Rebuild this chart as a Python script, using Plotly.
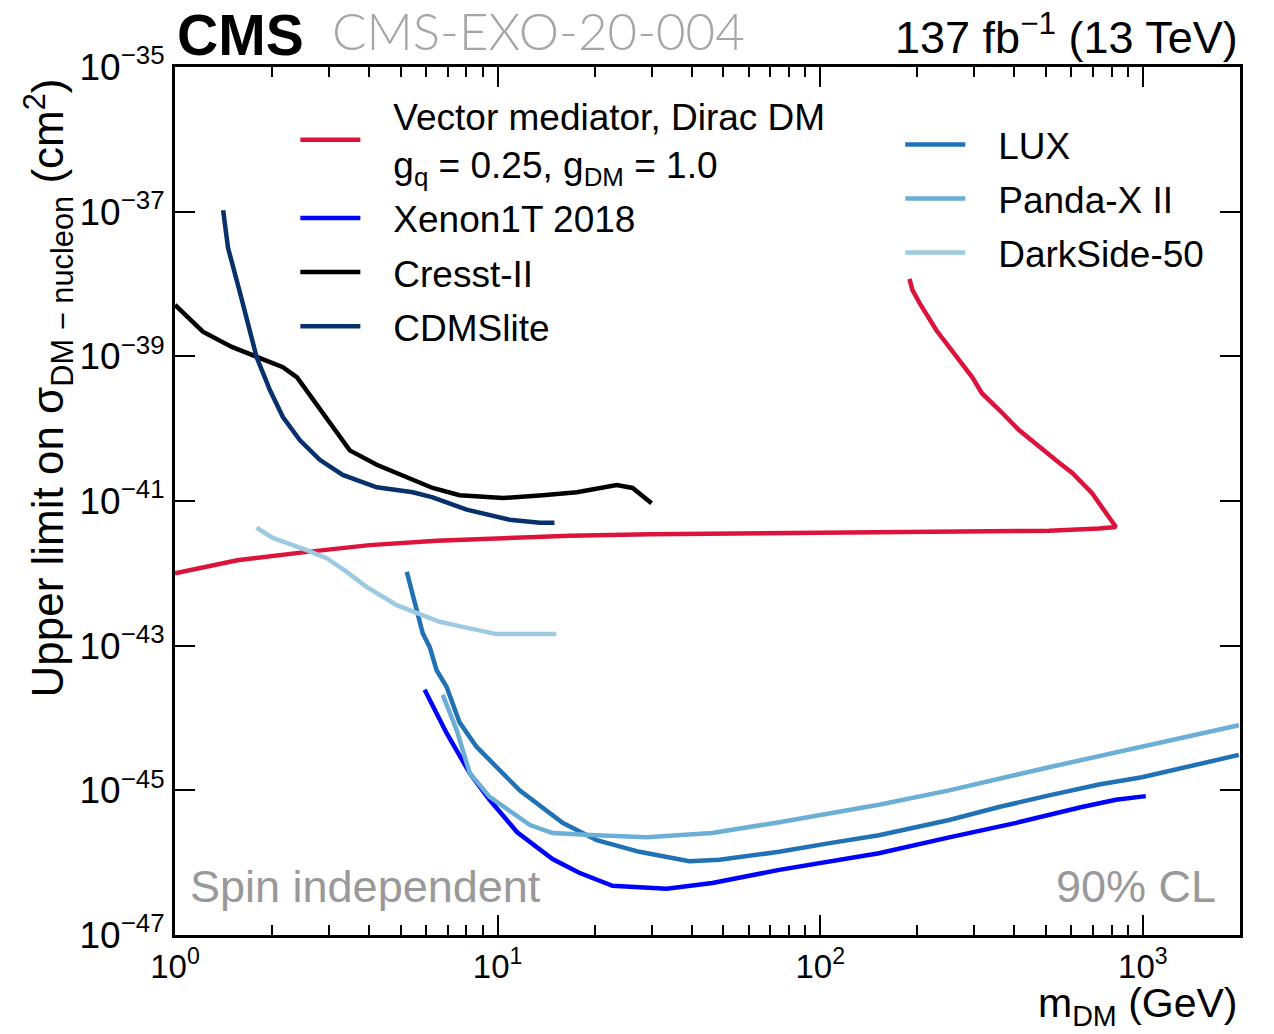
import plotly.graph_objects as go

# ---------------- data ----------------
vec_mass = [1.0, 1.56, 2.49, 4.01, 6.47, 10.4, 16.7, 29.6, 76.3, 198, 512, 731, 825,
            695, 603, 550, 501, 413, 366, 317, 296, 264, 229, 203, 193, 189]
vec_logxs = [-42.00, -41.82, -41.71, -41.61, -41.55, -41.51, -41.48, -41.46, -41.44, -41.43, -41.41, -41.38, -41.36,
             -40.89, -40.61, -40.47, -40.32, -40.02, -39.78, -39.51, -39.29, -39.01, -38.64, -38.26, -38.08, -37.93]

xenon_mass = [5.94, 6.95, 8.19, 9.44, 11.5, 14.8, 17.9, 22.7, 33.4, 46.3, 74.6, 152, 251, 405, 647, 825, 1021]
xenon_logxs = [-43.61, -44.21, -44.76, -45.13, -45.58, -45.95, -46.14, -46.32, -46.36, -46.28, -46.10,
               -45.87, -45.65, -45.45, -45.23, -45.13, -45.08]

cresst_mass = [1.0, 1.22, 1.50, 1.79, 2.16, 2.39, 2.87, 3.48, 4.22, 5.34, 6.29, 7.62, 10.4, 13.8, 17.6, 23.4, 26.2, 30.0]
cresst_logxs = [-38.29, -38.66, -38.87, -39.01, -39.15, -39.29, -39.78, -40.30, -40.50, -40.68, -40.82, -40.92,
                -40.96, -40.92, -40.88, -40.78, -40.82, -41.03]

cdms_mass = [1.41, 1.46, 1.59, 1.71, 1.79, 1.97, 2.16, 2.44, 2.81, 3.31, 4.22, 5.46, 6.29, 8.02, 10.9, 13.5, 15.0]
cdms_logxs = [-36.98, -37.50, -38.12, -38.68, -39.01, -39.47, -39.84, -40.16, -40.43, -40.64, -40.81, -40.88,
              -40.95, -41.12, -41.26, -41.30, -41.30]

lux_mass = [5.23, 5.61, 5.86, 6.16, 6.47, 6.95, 7.62, 8.61, 9.65, 11.7, 15.9, 20.3, 27.5, 39.3, 48.7, 74.6,
            107, 152, 251, 358, 512, 731, 993, 1230, 1983]
lux_logxs = [-41.98, -42.51, -42.83, -43.02, -43.34, -43.57, -44.06, -44.40, -44.62, -45.00, -45.45, -45.69,
             -45.85, -45.98, -45.96, -45.85, -45.73, -45.62, -45.41, -45.23, -45.07, -44.92, -44.82, -44.72, -44.51]

panda_mass = [6.76, 7.47, 8.19, 9.44, 12.6, 14.8, 20.3, 28.9, 46.3, 74.6, 152, 251, 512, 1044, 1983]
panda_logxs = [-43.68, -44.17, -44.76, -45.09, -45.48, -45.59, -45.62, -45.65, -45.59, -45.44, -45.20,
               -45.00, -44.68, -44.37, -44.10]

ds_mass = [1.79, 2.01, 2.56, 2.95, 3.41, 3.93, 4.87, 5.61, 6.61, 7.79, 9.93, 15.2]
ds_logxs = [-41.37, -41.51, -41.68, -41.79, -41.98, -42.19, -42.44, -42.55, -42.67, -42.74, -42.84, -42.84]

x_tick_exps = [0, 1, 2, 3]
y_tick_exps = [-35, -37, -39, -41, -43, -45, -47]

FONT = "Liberation Sans, Arial, Helvetica, sans-serif"
NB = "\u00a0\u00a0\u2009"


def pw(vals):
    return [10 ** v for v in vals]


fig = go.Figure()

series = [
    (NB + "Vector mediator, Dirac DM<br>" + NB + "g<sub>q</sub> = 0.25, g<sub>DM</sub> = 1.0",
     vec_mass, vec_logxs, "#dc143c", "legend"),
    (NB + "Xenon1T 2018", xenon_mass, xenon_logxs, "#0000ff", "legend"),
    (NB + "Cresst-II", cresst_mass, cresst_logxs, "#000000", "legend"),
    (NB + "CDMSlite", cdms_mass, cdms_logxs, "#08306b", "legend"),
    (NB + "LUX", lux_mass, lux_logxs, "#2171b5", "legend2"),
    (NB + "Panda-X II", panda_mass, panda_logxs, "#6baed6", "legend2"),
    (NB + "DarkSide-50", ds_mass, ds_logxs, "#9ecae1", "legend2"),
]

for i, (name, m, lx, col, leg) in enumerate(series):
    fig.add_trace(go.Scatter(x=m, y=pw(lx), mode="lines", name=name, legendgroup="g%d" % i,
                             line=dict(color=col, width=4.5), legend=leg))

axis_common = dict(
    type="log", showline=True, linecolor="black", linewidth=3, mirror="allticks",
    ticks="inside", ticklen=20, tickwidth=1.5, tickcolor="black", showgrid=False,
    zeroline=False,
)

minor_x = [k * 10 ** e for e in range(0, 4) for k in range(2, 10) if k * 10 ** e <= 2000]

fig.update_xaxes(**axis_common, range=[0, 3.30103], tickmode="array",
                 tickvals=[10 ** e for e in x_tick_exps],
                 ticktext=["10<sup>%d</sup>" % e for e in x_tick_exps],
                 tickfont=dict(family=FONT, size=33, color="black"),
                 minor=dict(ticks="inside", ticklen=10, tickwidth=1.5, tickcolor="black",
                            showgrid=False, tickvals=minor_x))
fig.update_yaxes(**axis_common, range=[-47, -35], tickmode="array",
                 tickvals=[10.0 ** e for e in y_tick_exps],
                 ticktext=["10<sup>−%d</sup>" % (-e) for e in y_tick_exps],
                 tickfont=dict(family=FONT, size=37, color="black"))

legend_common = dict(xanchor="left", yanchor="top", bgcolor="rgba(0,0,0,0)",
                     font=dict(family=FONT, size=37, color="black"), itemwidth=60,
                     tracegroupgap=3)

fig.update_layout(
    width=1274, height=1034,
    margin=dict(l=175, r=34, t=67, b=99),
    paper_bgcolor="white", plot_bgcolor="white",
    font=dict(family=FONT, color="black"),
    legend=dict(x=0.113, y=0.979, **legend_common),
    legend2=dict(x=0.681, y=0.946, **legend_common),
    annotations=[
        dict(text="Upper limit on σ<sub>DM − nucleon</sub> (cm<sup>2</sup>)", xref="paper", yref="paper",
             x=-0.119, y=0.271, xanchor="center", yanchor="bottom", textangle=-90, showarrow=False,
             font=dict(family=FONT, size=44, color="black")),
        dict(text="<b>CMS</b>", xref="paper", yref="paper", x=0, y=1, xanchor="left", yanchor="bottom",
             showarrow=False, font=dict(family=FONT, size=57, color="black"), yshift=-2),
        dict(text="CMS-EXO-20-004", xref="paper", yref="paper", x=0.146, y=1, xanchor="left", yanchor="bottom",
             showarrow=False, font=dict(family="Lato, Open Sans, sans-serif", size=51, color="#a6a6a6", weight=300),
             yshift=4),
        dict(text="137 fb<sup>−1</sup> (13 TeV)", xref="paper", yref="paper", x=1, y=1, xanchor="right",
             yanchor="bottom", showarrow=False, font=dict(family=FONT, size=45, color="black"), yshift=2),
        dict(text="Spin independent", xref="paper", yref="paper", x=0.012, y=0.056, xanchor="left",
             yanchor="middle", showarrow=False, font=dict(family=FONT, size=45, color="#999999")),
        dict(text="90% CL", xref="paper", yref="paper", x=0.979, y=0.056, xanchor="right",
             yanchor="middle", showarrow=False, font=dict(family=FONT, size=45, color="#999999")),
        dict(text="m<sub>DM</sub> (GeV)", xref="paper", yref="paper", x=1, y=-0.082, xanchor="right",
             yanchor="middle", showarrow=False, font=dict(family=FONT, size=41, color="black")),
    ],
)

fig.write_html("out.html")
